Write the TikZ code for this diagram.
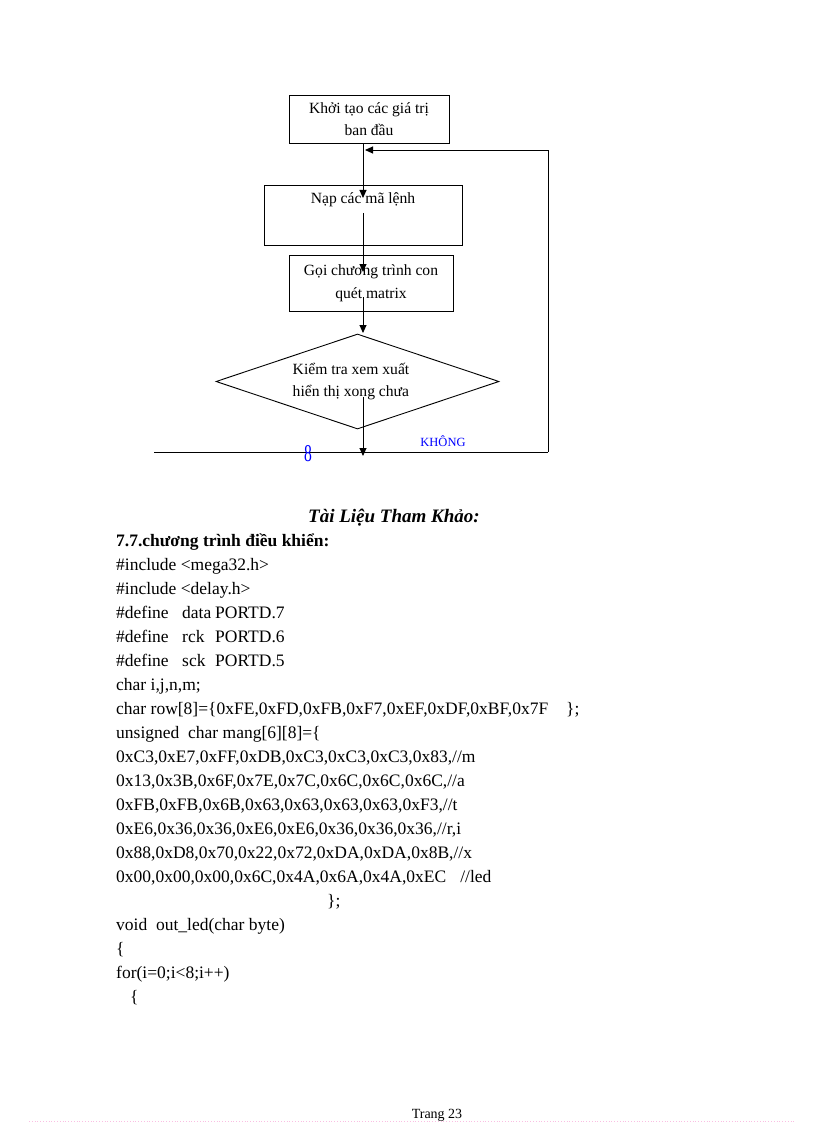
\documentclass[tikz,border=0pt]{standalone}
\usepackage{fontspec}
\setmainfont{Liberation Serif}
\usetikzlibrary{arrows.meta,shapes.geometric}
\newcommand{\flowfont}{\fontsize{15.6}{22.5}\selectfont}
\newcommand{\codefont}{\fontsize{17.5}{24}\selectfont}
\begin{document}
\begin{tikzpicture}[x=1pt,y=-1pt,
  box/.style={draw, line width=0.9pt, inner sep=0pt, font=\flowfont, align=center},
  flowtext/.style={font=\flowfont, inner sep=0pt, align=center},
  arr/.style={line width=0.9pt, -{Triangle[length=8pt,width=7pt]}},
  ln/.style={line width=0.9pt},
  code/.style={font=\codefont, inner sep=0pt, anchor=base west},
  blu/.style={text=blue, inner sep=0pt}]
\useasboundingbox (0,0) rectangle (816,1123);

% flowchart
\node[box, minimum width=160pt, minimum height=48pt] (b1) at (369,119) {Khởi tạo các giá trị\\ban đầu};
\node[box, minimum width=198pt, minimum height=60pt] (b2) at (363,215) {};
\node[flowtext] (t2) at (363,200) {Nạp các mã lệnh};
\node[box, minimum width=164pt, minimum height=56pt] (b3) at (371,283) {Gọi chương trình con\\quét matrix};
\node[diamond, draw, line width=0.9pt, minimum width=283pt, minimum height=95pt, inner sep=0pt] (dia) at (357.5,381.5) {};
\node[flowtext, align=left] (td) at (351,381.5) {Kiểm tra xem xuất\\hiển thị xong chưa};

\coordinate (a1) at (363,198);
\coordinate (s2) at (363,213);
\coordinate (a2) at (363,272);
\coordinate (s3) at (363,297);
\coordinate (a3) at (363,333);
\coordinate (s4) at (363,397);
\coordinate (a4) at (363,456);
\coordinate (fbtop) at (548,150);
\coordinate (fbbot) at (548,452);
\coordinate (fbend) at (365,150);
\coordinate (leftend) at (154,452);

\draw[arr] (b1.south -| a1) -- (a1);
\draw[arr] (s2) -- (a2);
\draw[arr] (s3) -- (a3);
\draw[arr] (s4) -- (a4);
\draw[ln] (leftend) -- (fbbot);
\draw[arr] (fbbot) -- (fbtop) -- (fbend);

\node[blu, font=\fontsize{12.5}{14}\selectfont] (kh) at (443,441) {KHÔNG};
\node[blu, font=\fontsize{24}{26}\selectfont] (co) at (308,453.5) {\scalebox{0.65}[1]{8}};

% text
\node[anchor=base west, inner sep=0pt, font=\fontsize{19}{24}\selectfont\bfseries\itshape] (title) at (308,522) {Tài Liệu Tham Khảo:};
\node[code, font=\codefont\bfseries] (h77) at (116,546) {7.7.chương trình điều khiển:};
\node[code] (c1) at (116,570) {\#include <mega32.h>};
\node[code] (c2) at (116,594) {\#include <delay.h>};
\node[code] (c3) at (116,618) {\makebox[66pt][l]{\#define}\makebox[33pt][l]{data}PORTD.7};
\node[code] (c4) at (116,642) {\makebox[66pt][l]{\#define}\makebox[33pt][l]{rck}PORTD.6};
\node[code] (c5) at (116,666) {\makebox[66pt][l]{\#define}\makebox[33pt][l]{sck}PORTD.5};
\node[code] (c6) at (116,690) {char i,j,n,m;};
\node[code] (c7) at (116,714) {\makebox[450pt][l]{char row[8]=\{0xFE,0xFD,0xFB,0xF7,0xEF,0xDF,0xBF,0x7F}\};};
\node[code] (c8) at (116,738) {unsigned\ \ char mang[6][8]=\{};
\node[code] (c9) at (116,762) {0xC3,0xE7,0xFF,0xDB,0xC3,0xC3,0xC3,0x83,//m};
\node[code] (c10) at (116,786) {0x13,0x3B,0x6F,0x7E,0x7C,0x6C,0x6C,0x6C,//a};
\node[code] (c11) at (116,810) {0xFB,0xFB,0x6B,0x63,0x63,0x63,0x63,0xF3,//t};
\node[code] (c12) at (116,834) {0xE6,0x36,0x36,0xE6,0xE6,0x36,0x36,0x36,//r,i};
\node[code] (c13) at (116,858) {0x88,0xD8,0x70,0x22,0x72,0xDA,0xDA,0x8B,//x};
\node[code] (c14) at (116,882) {0x00,0x00,0x00,0x6C,0x4A,0x6A,0x4A,0xEC\hspace{14pt}//led};
\node[code] (c15) at (327,906) {\};};
\node[code] (c16) at (116,930) {void\ \ out\_led(char byte)};
\node[code] (c17) at (116,954) {\{};
\node[code] (c18) at (116,978) {for(i=0;i<8;i++)};
\node[code] (c19) at (130,1002) {\{};

\node[anchor=base, inner sep=0pt, font=\fontsize{14}{16}\selectfont] (pg) at (437,1118) {Trang 23};
\coordinate (dl) at (29,1121.5);
\coordinate (dr) at (794,1121.5);
\draw[magenta!25, dotted, line width=0.8pt] (dl) -- (dr);
\end{tikzpicture}
\end{document}
